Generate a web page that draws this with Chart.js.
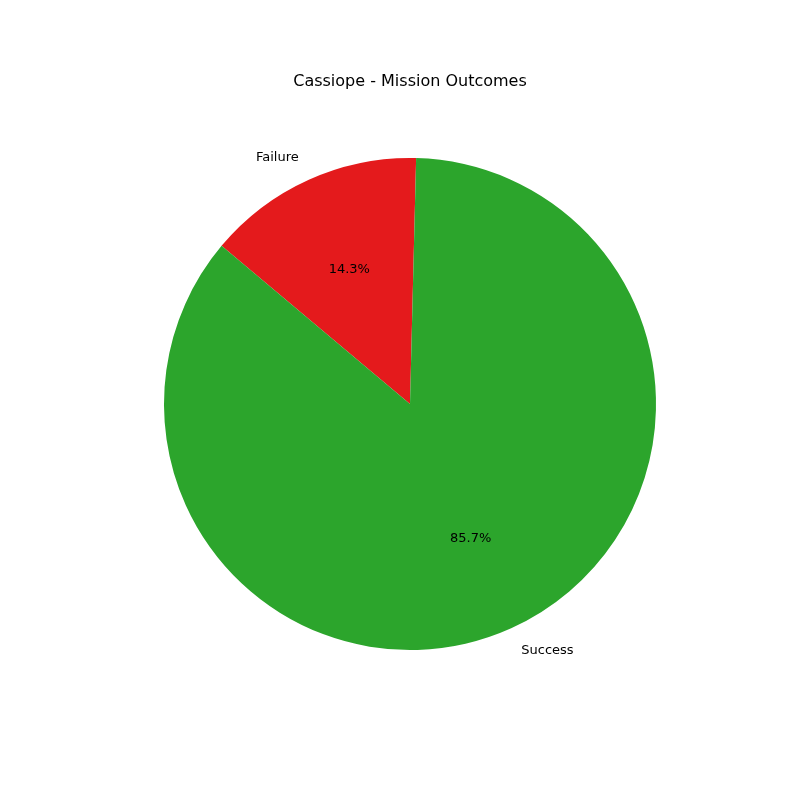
<!DOCTYPE html>
<html lang="en">
<head>
<meta charset="UTF-8" />
<title>Cassiope - Mission Outcomes</title>
<script src="https://cdn.jsdelivr.net/npm/chart.js"></script>
<style>
  html, body { margin: 0; padding: 0; background: #fff; }
  #wrap { width: 800px; height: 800px; }
</style>
</head>
<body>
<div id="wrap"><canvas id="pie"></canvas></div>
<script>
const labels = ['Failure', 'Success'];
const counts = [1, 6];
const colors = ['#e41a1c', '#2ca52c'];

// draws the matplotlib style title, outside labels and percentages
const pieText = {
    id: 'pieText',
    afterDraw(chart) {
        const ctx = chart.ctx;
        const arcs = chart.getDatasetMeta(0).data;
        const total = counts.reduce((a, b) => a + b, 0);
        ctx.save();
        ctx.fillStyle = '#000';
        ctx.font = '16px "DejaVu Sans"';
        ctx.textAlign = 'center';
        ctx.textBaseline = 'middle';
        ctx.fillText('Cassiope - Mission Outcomes', 410, 82);
        ctx.font = '13px "DejaVu Sans"';
        arcs.forEach((arc, i) => {
            const mid = (arc.startAngle + arc.endAngle) / 2;
            const r = arc.outerRadius;
            const cx = Math.cos(mid), cy = Math.sin(mid);
            ctx.textAlign = cx < 0 ? 'right' : 'left';
            ctx.fillText(labels[i], arc.x + cx * r * 1.1, arc.y + cy * r * 1.1);
            ctx.textAlign = 'center';
            const pct = (counts[i] / total * 100).toFixed(1) + '%';
            ctx.fillText(pct, arc.x + cx * r * 0.6, arc.y + cy * r * 0.6);
        });
        ctx.restore();
    }
};

new Chart(document.getElementById('pie'), {
    type: 'pie',
    data: {
        labels: labels,
        datasets: [{ data: counts, backgroundColor: colors, borderWidth: 0 }]
    },
    options: {
        responsive: true,
        maintainAspectRatio: false,
        animation: false,
        rotation: -50,
        layout: { padding: { left: 164, right: 144, top: 158, bottom: 150 } },
        plugins: { legend: { display: false }, tooltip: { enabled: false } }
    },
    plugins: [pieText]
});
</script>
</body>
</html>
